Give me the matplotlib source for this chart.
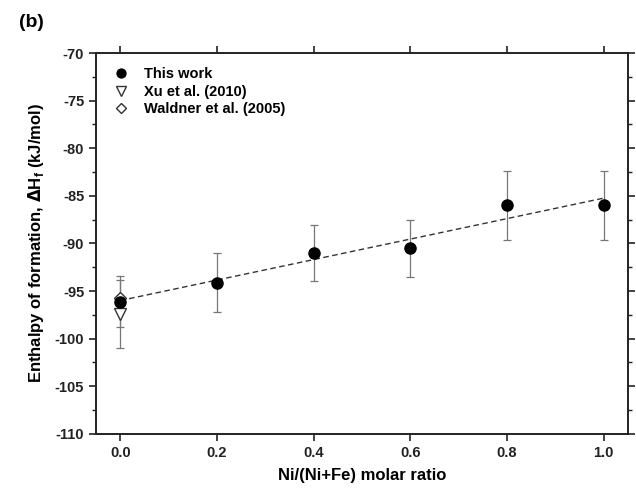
import matplotlib
matplotlib.use("Agg")
import matplotlib.pyplot as plt
import numpy as np

plt.rcParams['font.family'] = ['Liberation Sans', 'DejaVu Sans']
plt.rcParams['font.weight'] = 'bold'
plt.rcParams['axes.unicode_minus'] = False

# Data
x_this = [0.0, 0.2, 0.4, 0.6, 0.8, 1.0]
y_this = [-96.1, -94.1, -91.0, -90.5, -86.0, -86.0]
err_this = [2.7, 3.1, 2.9, 3.0, 3.6, 3.6]

x_xu = [0.0]
y_xu = [-97.4]
err_xu = [3.6]

x_wald = [0.0]
y_wald = [-95.7]

fig = plt.figure(figsize=(6.36, 5.01), dpi=100)
ax = fig.add_axes([0.151, 0.134, 0.836, 0.760])

# Linear fit
coef = np.polyfit(x_this, y_this, 1)
xf = np.array([min(x_this), max(x_this)])
ax.plot(xf, np.polyval(coef, xf), ls=(0, (4, 2.5)), color='#333333', lw=1.0, zorder=2)

ax.errorbar(x_xu, y_xu, yerr=err_xu, fmt='none', ecolor='#777777', elinewidth=0.9,
            capsize=3, capthick=0.9, zorder=1)
ax.errorbar(x_this, y_this, yerr=err_this, fmt='none', ecolor='#777777', elinewidth=0.9,
            capsize=3, capthick=0.9, zorder=1)

ax.plot(x_wald, y_wald, ls='none', marker='D', ms=6.5, mfc='white', mec='#333333', mew=1.0,
        label='Waldner et al. (2005)', zorder=3)
ax.plot(x_xu, y_xu, ls='none', marker='v', ms=8.5, mfc='white', mec='#333333', mew=1.0,
        label='Xu et al. (2010)', zorder=3)
ax.plot(x_this, y_this, ls='none', marker='o', ms=8, mfc='black', mec='black',
        label='This work', zorder=4)

handles, labels = ax.get_legend_handles_labels()
order = [2, 1, 0]
leg = ax.legend([handles[i] for i in order], [labels[i] for i in order],
                loc='upper left', frameon=False, fontsize=10.5, handletextpad=0.6,
                borderaxespad=0.3, labelspacing=0.25, markerscale=0.8,
                bbox_to_anchor=(0.0, 0.99))

ax.set_xlim(-0.05, 1.05)
ax.set_ylim(-110, -70)
ax.set_xticks([0.0, 0.2, 0.4, 0.6, 0.8, 1.0])
ax.set_xticklabels(['0.0', '0.2', '0.4', '0.6', '0.8', '1.0'])
ax.set_yticks(np.arange(-110, -69, 5))
ax.set_yticks(np.arange(-110, -69, 2.5), minor=True)

ax.tick_params(axis='both', which='major', direction='out', length=5, width=1.2,
               labelsize=10.5, top=True, right=True, colors='#222222')
ax.tick_params(axis='y', which='minor', direction='out', length=3, width=1.0,
               right=True, colors='#222222')
for lab in ax.get_xticklabels() + ax.get_yticklabels():
    lab.set_fontweight('bold')

for s in ax.spines.values():
    s.set_linewidth(1.4)
    s.set_color('#222222')

ax.set_xlabel('Ni/(Ni+Fe) molar ratio', fontsize=12, fontweight='bold', labelpad=6)
ax.set_ylabel(r'Enthalpy of formation, $\Delta$H$_\mathregular{f}$ (kJ/mol)',
              fontsize=12, fontweight='bold', labelpad=6)

fig.text(0.03, 0.955, '(b)', fontsize=14, fontweight='bold', va='center', ha='left')

fig.savefig('out.png', dpi=100)
